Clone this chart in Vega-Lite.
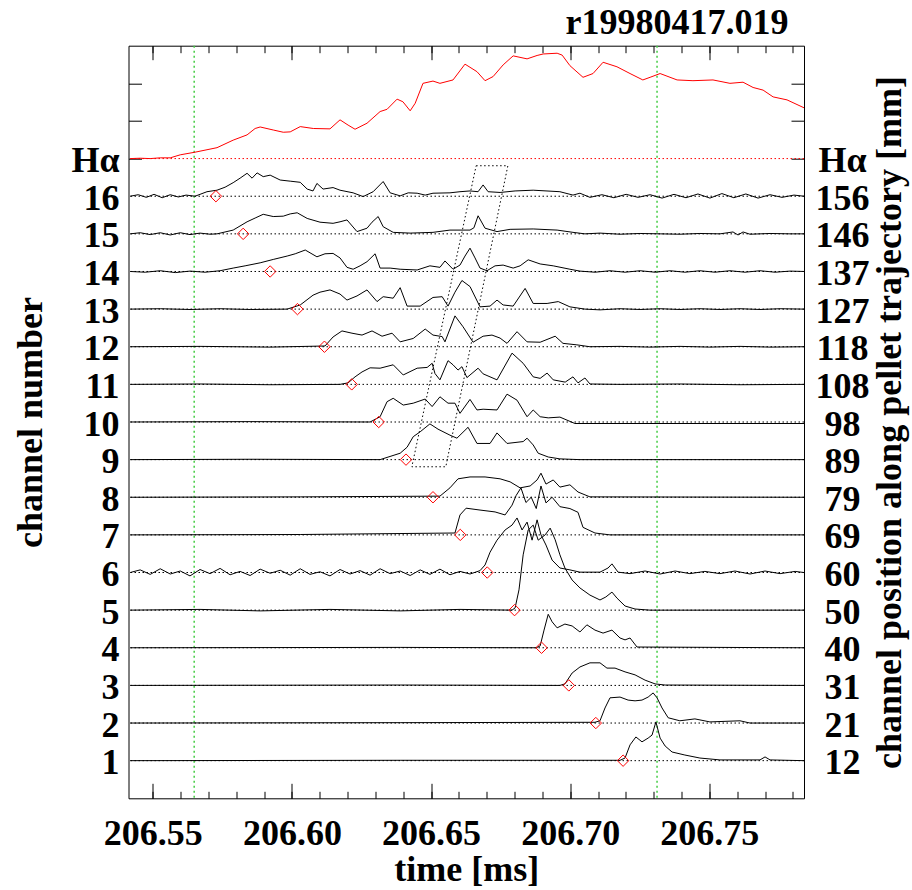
{
"$schema":"https://vega.github.io/schema/vega-lite/v6.json",
"width":675.5,"height":752.6,
"autosize":{"type":"none"},
"padding":{"left":128.5,"top":45.7,"right":108,"bottom":91.7},
"config":{"view":{"stroke":"black","strokeWidth":1},"font":"Liberation Serif",
"axis":{"domain":false,"grid":false,"labelFont":"Liberation Serif","labelFontSize":36,"labelFontWeight":"bold","labelColor":"black","titleFont":"Liberation Serif","titleFontSize":36,"titleFontWeight":"bold","titleColor":"black","tickColor":"black","tickWidth":1,"labelFlush":false,"labelOverlap":false,"labelBound":false}},
"datasets":{
"bl":[{"c":1},{"c":2},{"c":3},{"c":4},{"c":5},{"c":6},{"c":7},{"c":8},{"c":9},{"c":10},{"c":11},{"c":12},{"c":13},{"c":14},{"c":15},{"c":16}],
"hb":[{"c":17}],
"gl":[{"t":206.5649},{"t":206.7312}],
"bx":[{"i":1,"t":206.6662,"y":16.81},{"i":2,"t":206.6776,"y":16.81},{"i":3,"t":206.6553,"y":8.81},{"i":4,"t":206.6431,"y":8.81},{"i":5,"t":206.6662,"y":16.81}],
"dm":[{"c":16,"t":206.5727},{"c":15,"t":206.5825},{"c":14,"t":206.5922},{"c":13,"t":206.602},{"c":12,"t":206.6117},{"c":11,"t":206.6215},{"c":10,"t":206.6312},{"c":9,"t":206.641},{"c":8,"t":206.6507},{"c":7,"t":206.6605},{"c":6,"t":206.6702},{"c":5,"t":206.68},{"c":4,"t":206.6897},{"c":3,"t":206.6995},{"c":2,"t":206.7092},{"c":1,"t":206.719}],
"ha":[{"t":206.5419,"y":17.0},{"t":206.5455,"y":17.01},{"t":206.5491,"y":17.0},{"t":206.5527,"y":17.02},{"t":206.5563,"y":17.02},{"t":206.5599,"y":17.1},{"t":206.5652,"y":17.17},{"t":206.5731,"y":17.29},{"t":206.5789,"y":17.49},{"t":206.5839,"y":17.63},{"t":206.5868,"y":17.8},{"t":206.5886,"y":17.84},{"t":206.5933,"y":17.76},{"t":206.5969,"y":17.7},{"t":206.5994,"y":17.71},{"t":206.603,"y":17.85},{"t":206.6077,"y":17.8},{"t":206.6137,"y":17.79},{"t":206.6173,"y":18.03},{"t":206.6202,"y":17.89},{"t":206.6227,"y":17.78},{"t":206.627,"y":17.94},{"t":206.6317,"y":18.25},{"t":206.6342,"y":18.31},{"t":206.6378,"y":18.58},{"t":206.6399,"y":18.51},{"t":206.6425,"y":18.27},{"t":206.6443,"y":18.47},{"t":206.6471,"y":19.0},{"t":206.6507,"y":19.06},{"t":206.6532,"y":19.0},{"t":206.6579,"y":19.09},{"t":206.6622,"y":19.51},{"t":206.6665,"y":19.31},{"t":206.6694,"y":19.07},{"t":206.6723,"y":19.18},{"t":206.6759,"y":19.49},{"t":206.6795,"y":19.73},{"t":206.6845,"y":19.65},{"t":206.6881,"y":19.74},{"t":206.6903,"y":19.78},{"t":206.6953,"y":19.8},{"t":206.6971,"y":19.75},{"t":206.6999,"y":19.47},{"t":206.7046,"y":19.16},{"t":206.7082,"y":19.26},{"t":206.7118,"y":19.56},{"t":206.7168,"y":19.44},{"t":206.7215,"y":19.26},{"t":206.7261,"y":19.09},{"t":206.7287,"y":19.16},{"t":206.7323,"y":19.26},{"t":206.7384,"y":19.09},{"t":206.7441,"y":19.07},{"t":206.7513,"y":19.09},{"t":206.7574,"y":19.0},{"t":206.7621,"y":19.03},{"t":206.7657,"y":18.89},{"t":206.7693,"y":18.82},{"t":206.7729,"y":18.64},{"t":206.7779,"y":18.56},{"t":206.784,"y":18.35}],
"tr":[
{"c":16,"t":206.5419,"y":16.0},{"c":16,"t":206.5448,"y":16.04},{"c":16,"t":206.5477,"y":15.97},{"c":16,"t":206.5505,"y":16.05},{"c":16,"t":206.5534,"y":15.96},{"c":16,"t":206.5563,"y":16.04},{"c":16,"t":206.5592,"y":15.98},{"c":16,"t":206.562,"y":16.03},{"c":16,"t":206.5652,"y":16.0},{"c":16,"t":206.5695,"y":16.12},{"c":16,"t":206.5731,"y":16.16},{"c":16,"t":206.576,"y":16.24},{"c":16,"t":206.5789,"y":16.36},{"c":16,"t":206.5814,"y":16.48},{"c":16,"t":206.5839,"y":16.61},{"c":16,"t":206.5857,"y":16.48},{"c":16,"t":206.5875,"y":16.62},{"c":16,"t":206.5897,"y":16.52},{"c":16,"t":206.5922,"y":16.56},{"c":16,"t":206.5958,"y":16.43},{"c":16,"t":206.5994,"y":16.4},{"c":16,"t":206.603,"y":16.37},{"c":16,"t":206.6055,"y":16.19},{"c":16,"t":206.6076,"y":16.14},{"c":16,"t":206.609,"y":16.34},{"c":16,"t":206.6112,"y":16.19},{"c":16,"t":206.6148,"y":16.23},{"c":16,"t":206.6173,"y":16.16},{"c":16,"t":206.622,"y":16.09},{"c":16,"t":206.6256,"y":15.99},{"c":16,"t":206.6292,"y":16.12},{"c":16,"t":206.6328,"y":16.39},{"c":16,"t":206.6353,"y":16.09},{"c":16,"t":206.6389,"y":16.01},{"c":16,"t":206.6418,"y":16.09},{"c":16,"t":206.645,"y":16.08},{"c":16,"t":206.6479,"y":16.03},{"c":16,"t":206.6507,"y":16.08},{"c":16,"t":206.6568,"y":16.09},{"c":16,"t":206.6604,"y":16.12},{"c":16,"t":206.664,"y":16.14},{"c":16,"t":206.6669,"y":16.12},{"c":16,"t":206.6687,"y":16.3},{"c":16,"t":206.6705,"y":16.12},{"c":16,"t":206.6748,"y":16.1},{"c":16,"t":206.6802,"y":16.14},{"c":16,"t":206.6867,"y":16.16},{"c":16,"t":206.6963,"y":16.12},{"c":16,"t":206.701,"y":16.03},{"c":16,"t":206.7035,"y":16.08},{"c":16,"t":206.7071,"y":15.97},{"c":16,"t":206.7114,"y":16.04},{"c":16,"t":206.7157,"y":15.96},{"c":16,"t":206.7201,"y":16.05},{"c":16,"t":206.7244,"y":15.97},{"c":16,"t":206.7287,"y":16.04},{"c":16,"t":206.733,"y":15.95},{"c":16,"t":206.7373,"y":16.05},{"c":16,"t":206.7416,"y":15.96},{"c":16,"t":206.7459,"y":16.06},{"c":16,"t":206.7502,"y":15.95},{"c":16,"t":206.7545,"y":16.07},{"c":16,"t":206.7588,"y":15.96},{"c":16,"t":206.7631,"y":16.06},{"c":16,"t":206.7675,"y":15.95},{"c":16,"t":206.7718,"y":16.04},{"c":16,"t":206.7761,"y":15.97},{"c":16,"t":206.7804,"y":16.03},{"c":16,"t":206.784,"y":16.0},
{"c":15,"t":206.5419,"y":15.0},{"c":15,"t":206.5455,"y":15.03},{"c":15,"t":206.5491,"y":14.98},{"c":15,"t":206.5527,"y":15.03},{"c":15,"t":206.5563,"y":14.97},{"c":15,"t":206.5599,"y":15.03},{"c":15,"t":206.5634,"y":14.98},{"c":15,"t":206.567,"y":15.02},{"c":15,"t":206.5706,"y":14.99},{"c":15,"t":206.5731,"y":15.0},{"c":15,"t":206.5789,"y":15.1},{"c":15,"t":206.5839,"y":15.32},{"c":15,"t":206.5868,"y":15.42},{"c":15,"t":206.5897,"y":15.52},{"c":15,"t":206.5933,"y":15.46},{"c":15,"t":206.5969,"y":15.47},{"c":15,"t":206.5994,"y":15.53},{"c":15,"t":206.6019,"y":15.56},{"c":15,"t":206.6055,"y":15.41},{"c":15,"t":206.6101,"y":15.31},{"c":15,"t":206.6148,"y":15.28},{"c":15,"t":206.6173,"y":15.32},{"c":15,"t":206.6198,"y":15.37},{"c":15,"t":206.6234,"y":15.06},{"c":15,"t":206.627,"y":15.15},{"c":15,"t":206.6288,"y":15.31},{"c":15,"t":206.631,"y":15.46},{"c":15,"t":206.6328,"y":15.19},{"c":15,"t":206.6364,"y":15.04},{"c":15,"t":206.6425,"y":15.02},{"c":15,"t":206.6507,"y":15.04},{"c":15,"t":206.6568,"y":15.1},{"c":15,"t":206.664,"y":15.1},{"c":15,"t":206.6654,"y":15.16},{"c":15,"t":206.6669,"y":15.48},{"c":15,"t":206.6694,"y":15.15},{"c":15,"t":206.6737,"y":15.06},{"c":15,"t":206.6784,"y":15.12},{"c":15,"t":206.6867,"y":15.13},{"c":15,"t":206.6953,"y":15.1},{"c":15,"t":206.701,"y":15.04},{"c":15,"t":206.7053,"y":15.0},{"c":15,"t":206.7107,"y":15.02},{"c":15,"t":206.7179,"y":14.99},{"c":15,"t":206.7251,"y":15.01},{"c":15,"t":206.7323,"y":15.0},{"c":15,"t":206.7394,"y":14.99},{"c":15,"t":206.7466,"y":15.01},{"c":15,"t":206.7538,"y":15.0},{"c":15,"t":206.7585,"y":15.05},{"c":15,"t":206.7603,"y":14.97},{"c":15,"t":206.7621,"y":15.05},{"c":15,"t":206.7646,"y":14.99},{"c":15,"t":206.7718,"y":15.01},{"c":15,"t":206.779,"y":15.0},{"c":15,"t":206.784,"y":15.0},
{"c":14,"t":206.5419,"y":14.0},{"c":14,"t":206.5473,"y":13.98},{"c":14,"t":206.5527,"y":14.02},{"c":14,"t":206.5581,"y":13.97},{"c":14,"t":206.5634,"y":14.01},{"c":14,"t":206.5688,"y":13.98},{"c":14,"t":206.5742,"y":14.02},{"c":14,"t":206.5789,"y":14.09},{"c":14,"t":206.5832,"y":14.15},{"c":14,"t":206.5886,"y":14.23},{"c":14,"t":206.5933,"y":14.32},{"c":14,"t":206.5983,"y":14.41},{"c":14,"t":206.6012,"y":14.47},{"c":14,"t":206.6048,"y":14.57},{"c":14,"t":206.609,"y":14.39},{"c":14,"t":206.6119,"y":14.47},{"c":14,"t":206.6148,"y":14.48},{"c":14,"t":206.6173,"y":14.36},{"c":14,"t":206.6198,"y":14.11},{"c":14,"t":206.622,"y":14.06},{"c":14,"t":206.6245,"y":14.15},{"c":14,"t":206.627,"y":14.26},{"c":14,"t":206.6299,"y":14.47},{"c":14,"t":206.6317,"y":14.09},{"c":14,"t":206.6353,"y":14.09},{"c":14,"t":206.6389,"y":14.06},{"c":14,"t":206.645,"y":14.04},{"c":14,"t":206.6496,"y":14.15},{"c":14,"t":206.6532,"y":14.11},{"c":14,"t":206.655,"y":14.28},{"c":14,"t":206.6579,"y":14.06},{"c":14,"t":206.6604,"y":14.17},{"c":14,"t":206.6622,"y":14.41},{"c":14,"t":206.664,"y":14.62},{"c":14,"t":206.6658,"y":14.36},{"c":14,"t":206.6676,"y":14.09},{"c":14,"t":206.6701,"y":14.02},{"c":14,"t":206.673,"y":14.15},{"c":14,"t":206.6759,"y":14.17},{"c":14,"t":206.6795,"y":14.09},{"c":14,"t":206.682,"y":14.15},{"c":14,"t":206.6849,"y":14.31},{"c":14,"t":206.6892,"y":14.2},{"c":14,"t":206.6939,"y":14.15},{"c":14,"t":206.6999,"y":14.06},{"c":14,"t":206.7035,"y":14.01},{"c":14,"t":206.7089,"y":13.98},{"c":14,"t":206.7143,"y":14.02},{"c":14,"t":206.7197,"y":13.98},{"c":14,"t":206.7251,"y":14.02},{"c":14,"t":206.7305,"y":13.98},{"c":14,"t":206.7359,"y":14.02},{"c":14,"t":206.7412,"y":13.98},{"c":14,"t":206.7466,"y":14.02},{"c":14,"t":206.752,"y":13.98},{"c":14,"t":206.7574,"y":14.02},{"c":14,"t":206.7628,"y":13.98},{"c":14,"t":206.7682,"y":14.02},{"c":14,"t":206.7736,"y":13.98},{"c":14,"t":206.779,"y":14.01},{"c":14,"t":206.784,"y":14.0},
{"c":13,"t":206.5419,"y":13.0},{"c":13,"t":206.5527,"y":13.01},{"c":13,"t":206.5634,"y":12.99},{"c":13,"t":206.5742,"y":13.01},{"c":13,"t":206.585,"y":12.99},{"c":13,"t":206.5983,"y":13.0},{"c":13,"t":206.603,"y":13.11},{"c":13,"t":206.6076,"y":13.37},{"c":13,"t":206.6101,"y":13.45},{"c":13,"t":206.6137,"y":13.51},{"c":13,"t":206.6173,"y":13.4},{"c":13,"t":206.6198,"y":13.24},{"c":13,"t":206.6234,"y":13.35},{"c":13,"t":206.627,"y":13.51},{"c":13,"t":206.6306,"y":13.2},{"c":13,"t":206.6328,"y":13.33},{"c":13,"t":206.6364,"y":13.29},{"c":13,"t":206.6389,"y":13.57},{"c":13,"t":206.6414,"y":13.08},{"c":13,"t":206.6461,"y":13.08},{"c":13,"t":206.6507,"y":13.31},{"c":13,"t":206.654,"y":13.33},{"c":13,"t":206.6561,"y":13.08},{"c":13,"t":206.6586,"y":13.45},{"c":13,"t":206.6611,"y":13.76},{"c":13,"t":206.664,"y":13.6},{"c":13,"t":206.6676,"y":13.06},{"c":13,"t":206.6712,"y":13.08},{"c":13,"t":206.6737,"y":13.24},{"c":13,"t":206.6759,"y":13.11},{"c":13,"t":206.6795,"y":13.08},{"c":13,"t":206.6838,"y":13.55},{"c":13,"t":206.6867,"y":13.15},{"c":13,"t":206.6917,"y":13.15},{"c":13,"t":206.6957,"y":13.2},{"c":13,"t":206.6999,"y":13.06},{"c":13,"t":206.7053,"y":13.0},{"c":13,"t":206.7107,"y":12.98},{"c":13,"t":206.7179,"y":13.01},{"c":13,"t":206.7251,"y":12.99},{"c":13,"t":206.7323,"y":13.01},{"c":13,"t":206.7394,"y":12.99},{"c":13,"t":206.7466,"y":13.01},{"c":13,"t":206.7538,"y":12.99},{"c":13,"t":206.761,"y":13.01},{"c":13,"t":206.7682,"y":12.99},{"c":13,"t":206.7754,"y":13.01},{"c":13,"t":206.784,"y":13.0},
{"c":12,"t":206.5419,"y":12.0},{"c":12,"t":206.567,"y":12.01},{"c":12,"t":206.5922,"y":11.99},{"c":12,"t":206.6119,"y":12.02},{"c":12,"t":206.6148,"y":12.26},{"c":12,"t":206.618,"y":12.42},{"c":12,"t":206.6216,"y":12.36},{"c":12,"t":206.6252,"y":12.31},{"c":12,"t":206.6288,"y":12.42},{"c":12,"t":206.6324,"y":12.28},{"c":12,"t":206.636,"y":12.36},{"c":12,"t":206.6389,"y":12.13},{"c":12,"t":206.6436,"y":12.22},{"c":12,"t":206.6479,"y":12.47},{"c":12,"t":206.6507,"y":12.31},{"c":12,"t":206.654,"y":12.27},{"c":12,"t":206.655,"y":12.13},{"c":12,"t":206.6586,"y":12.82},{"c":12,"t":206.6615,"y":12.53},{"c":12,"t":206.6651,"y":12.12},{"c":12,"t":206.6687,"y":12.28},{"c":12,"t":206.6719,"y":12.31},{"c":12,"t":206.6748,"y":12.23},{"c":12,"t":206.6773,"y":12.09},{"c":12,"t":206.6809,"y":12.4},{"c":12,"t":206.6845,"y":12.13},{"c":12,"t":206.6892,"y":12.12},{"c":12,"t":206.6946,"y":12.28},{"c":12,"t":206.6974,"y":12.09},{"c":12,"t":206.7024,"y":12.05},{"c":12,"t":206.7071,"y":12.0},{"c":12,"t":206.7179,"y":12.01},{"c":12,"t":206.7287,"y":11.99},{"c":12,"t":206.7394,"y":12.01},{"c":12,"t":206.7502,"y":11.99},{"c":12,"t":206.761,"y":12.01},{"c":12,"t":206.7718,"y":11.99},{"c":12,"t":206.784,"y":12.0},
{"c":11,"t":206.5419,"y":11.0},{"c":11,"t":206.567,"y":11.01},{"c":11,"t":206.5922,"y":10.99},{"c":11,"t":206.6173,"y":11.0},{"c":11,"t":206.6202,"y":11.04},{"c":11,"t":206.6227,"y":11.2},{"c":11,"t":206.6252,"y":11.33},{"c":11,"t":206.6281,"y":11.44},{"c":11,"t":206.6317,"y":11.43},{"c":11,"t":206.6364,"y":11.52},{"c":11,"t":206.64,"y":11.25},{"c":11,"t":206.645,"y":11.43},{"c":11,"t":206.6486,"y":11.45},{"c":11,"t":206.6504,"y":11.56},{"c":11,"t":206.6514,"y":11.29},{"c":11,"t":206.6532,"y":11.12},{"c":11,"t":206.6561,"y":11.63},{"c":11,"t":206.6579,"y":11.52},{"c":11,"t":206.6597,"y":11.38},{"c":11,"t":206.6611,"y":11.47},{"c":11,"t":206.6629,"y":11.18},{"c":11,"t":206.6669,"y":11.43},{"c":11,"t":206.6687,"y":11.28},{"c":11,"t":206.6737,"y":11.12},{"c":11,"t":206.6791,"y":11.83},{"c":11,"t":206.6831,"y":11.56},{"c":11,"t":206.6867,"y":11.2},{"c":11,"t":206.6892,"y":11.16},{"c":11,"t":206.6917,"y":11.3},{"c":11,"t":206.6939,"y":11.12},{"c":11,"t":206.6982,"y":11.06},{"c":11,"t":206.701,"y":11.2},{"c":11,"t":206.7028,"y":11.04},{"c":11,"t":206.7053,"y":11.17},{"c":11,"t":206.7071,"y":11.01},{"c":11,"t":206.7179,"y":11.0},{"c":11,"t":206.7394,"y":11.01},{"c":11,"t":206.761,"y":10.99},{"c":11,"t":206.784,"y":11.0},
{"c":10,"t":206.5419,"y":10.0},{"c":10,"t":206.585,"y":10.01},{"c":10,"t":206.6281,"y":10.0},{"c":10,"t":206.6317,"y":10.14},{"c":10,"t":206.6342,"y":10.54},{"c":10,"t":206.6364,"y":10.63},{"c":10,"t":206.64,"y":10.45},{"c":10,"t":206.6436,"y":10.5},{"c":10,"t":206.6479,"y":10.61},{"c":10,"t":206.6504,"y":10.41},{"c":10,"t":206.6532,"y":10.67},{"c":10,"t":206.6561,"y":10.5},{"c":10,"t":206.6586,"y":10.5},{"c":10,"t":206.6604,"y":10.23},{"c":10,"t":206.664,"y":10.6},{"c":10,"t":206.6665,"y":10.32},{"c":10,"t":206.6687,"y":10.34},{"c":10,"t":206.6737,"y":10.32},{"c":10,"t":206.6773,"y":10.74},{"c":10,"t":206.6809,"y":10.58},{"c":10,"t":206.6845,"y":10.14},{"c":10,"t":206.6867,"y":10.32},{"c":10,"t":206.6892,"y":10.14},{"c":10,"t":206.6921,"y":10.11},{"c":10,"t":206.6963,"y":10.13},{"c":10,"t":206.7017,"y":9.96},{"c":10,"t":206.784,"y":9.96},
{"c":9,"t":206.5419,"y":9.0},{"c":9,"t":206.585,"y":9.01},{"c":9,"t":206.6317,"y":9.0},{"c":9,"t":206.6389,"y":9.17},{"c":9,"t":206.6414,"y":9.33},{"c":9,"t":206.6436,"y":9.61},{"c":9,"t":206.6461,"y":9.74},{"c":9,"t":206.6496,"y":9.95},{"c":9,"t":206.6525,"y":9.81},{"c":9,"t":206.6568,"y":9.65},{"c":9,"t":206.6593,"y":9.57},{"c":9,"t":206.6633,"y":9.86},{"c":9,"t":206.6665,"y":9.43},{"c":9,"t":206.6712,"y":9.43},{"c":9,"t":206.6737,"y":9.71},{"c":9,"t":206.6773,"y":9.43},{"c":9,"t":206.6831,"y":9.48},{"c":9,"t":206.6845,"y":9.57},{"c":9,"t":206.6867,"y":9.39},{"c":9,"t":206.6885,"y":9.17},{"c":9,"t":206.6921,"y":9.07},{"c":9,"t":206.6963,"y":9.02},{"c":9,"t":206.7035,"y":9.0},{"c":9,"t":206.784,"y":9.0},
{"c":8,"t":206.5419,"y":8.0},{"c":8,"t":206.603,"y":8.01},{"c":8,"t":206.6532,"y":8.03},{"c":8,"t":206.6568,"y":8.25},{"c":8,"t":206.6597,"y":8.49},{"c":8,"t":206.664,"y":8.54},{"c":8,"t":206.6694,"y":8.54},{"c":8,"t":206.6748,"y":8.49},{"c":8,"t":206.6784,"y":8.41},{"c":8,"t":206.682,"y":8.25},{"c":8,"t":206.6856,"y":8.3},{"c":8,"t":206.6881,"y":8.46},{"c":8,"t":206.6895,"y":8.64},{"c":8,"t":206.6913,"y":8.35},{"c":8,"t":206.6939,"y":8.46},{"c":8,"t":206.6963,"y":8.27},{"c":8,"t":206.6999,"y":8.33},{"c":8,"t":206.7028,"y":8.14},{"c":8,"t":206.7071,"y":8.01},{"c":8,"t":206.784,"y":8.0},
{"c":7,"t":206.5419,"y":7.0},{"c":7,"t":206.603,"y":7.01},{"c":7,"t":206.6586,"y":7.05},{"c":7,"t":206.6604,"y":7.53},{"c":7,"t":206.6626,"y":7.71},{"c":7,"t":206.6676,"y":7.66},{"c":7,"t":206.673,"y":7.61},{"c":7,"t":206.6766,"y":7.53},{"c":7,"t":206.6791,"y":7.79},{"c":7,"t":206.6806,"y":8.05},{"c":7,"t":206.6823,"y":8.25},{"c":7,"t":206.6841,"y":7.86},{"c":7,"t":206.686,"y":8.0},{"c":7,"t":206.6878,"y":7.7},{"c":7,"t":206.6895,"y":8.3},{"c":7,"t":206.6913,"y":7.85},{"c":7,"t":206.6935,"y":8.0},{"c":7,"t":206.6963,"y":7.75},{"c":7,"t":206.6999,"y":7.7},{"c":7,"t":206.7028,"y":7.6},{"c":7,"t":206.7046,"y":7.2},{"c":7,"t":206.7089,"y":7.05},{"c":7,"t":206.7143,"y":7.0},{"c":7,"t":206.784,"y":7.0},
{"c":6,"t":206.5419,"y":6.0},{"c":6,"t":206.5455,"y":6.07},{"c":6,"t":206.5491,"y":5.95},{"c":6,"t":206.5527,"y":6.1},{"c":6,"t":206.5563,"y":5.96},{"c":6,"t":206.5599,"y":6.04},{"c":6,"t":206.5634,"y":5.91},{"c":6,"t":206.567,"y":6.08},{"c":6,"t":206.5706,"y":5.97},{"c":6,"t":206.5742,"y":6.11},{"c":6,"t":206.5778,"y":5.94},{"c":6,"t":206.5814,"y":6.03},{"c":6,"t":206.585,"y":5.92},{"c":6,"t":206.5886,"y":6.09},{"c":6,"t":206.5922,"y":5.98},{"c":6,"t":206.5958,"y":6.06},{"c":6,"t":206.5994,"y":5.93},{"c":6,"t":206.603,"y":6.1},{"c":6,"t":206.6065,"y":5.95},{"c":6,"t":206.6101,"y":6.02},{"c":6,"t":206.6137,"y":5.91},{"c":6,"t":206.6173,"y":6.08},{"c":6,"t":206.6209,"y":5.96},{"c":6,"t":206.6245,"y":6.05},{"c":6,"t":206.6281,"y":5.93},{"c":6,"t":206.6317,"y":6.1},{"c":6,"t":206.6353,"y":5.97},{"c":6,"t":206.6389,"y":6.04},{"c":6,"t":206.6425,"y":5.92},{"c":6,"t":206.6461,"y":6.07},{"c":6,"t":206.6496,"y":5.95},{"c":6,"t":206.6532,"y":6.09},{"c":6,"t":206.6568,"y":5.94},{"c":6,"t":206.6604,"y":6.03},{"c":6,"t":206.664,"y":5.96},{"c":6,"t":206.6676,"y":6.05},{"c":6,"t":206.6694,"y":6.2},{"c":6,"t":206.6712,"y":6.54},{"c":6,"t":206.6737,"y":6.86},{"c":6,"t":206.6766,"y":7.13},{"c":6,"t":206.6791,"y":7.26},{"c":6,"t":206.6809,"y":7.45},{"c":6,"t":206.6827,"y":7.13},{"c":6,"t":206.6845,"y":7.34},{"c":6,"t":206.6863,"y":6.86},{"c":6,"t":206.6881,"y":7.4},{"c":6,"t":206.6895,"y":7.0},{"c":6,"t":206.6913,"y":6.73},{"c":6,"t":206.6935,"y":6.33},{"c":6,"t":206.6963,"y":6.12},{"c":6,"t":206.6999,"y":6.07},{"c":6,"t":206.7035,"y":6.01},{"c":6,"t":206.7107,"y":6.01},{"c":6,"t":206.7136,"y":6.12},{"c":6,"t":206.715,"y":6.23},{"c":6,"t":206.7172,"y":6.01},{"c":6,"t":206.7215,"y":5.97},{"c":6,"t":206.7269,"y":6.04},{"c":6,"t":206.7323,"y":5.96},{"c":6,"t":206.7377,"y":6.04},{"c":6,"t":206.743,"y":5.97},{"c":6,"t":206.7484,"y":6.03},{"c":6,"t":206.7538,"y":5.97},{"c":6,"t":206.7592,"y":6.04},{"c":6,"t":206.7646,"y":5.96},{"c":6,"t":206.77,"y":6.04},{"c":6,"t":206.7754,"y":5.97},{"c":6,"t":206.7808,"y":6.03},{"c":6,"t":206.784,"y":6.0},
{"c":5,"t":206.5419,"y":5.0},{"c":5,"t":206.567,"y":5.02},{"c":5,"t":206.5886,"y":4.98},{"c":5,"t":206.6137,"y":5.02},{"c":5,"t":206.6389,"y":4.98},{"c":5,"t":206.6604,"y":5.02},{"c":5,"t":206.6791,"y":5.0},{"c":5,"t":206.6802,"y":5.06},{"c":5,"t":206.6816,"y":5.54},{"c":5,"t":206.6831,"y":6.47},{"c":5,"t":206.6849,"y":7.13},{"c":5,"t":206.6867,"y":7.26},{"c":5,"t":206.6885,"y":6.86},{"c":5,"t":206.691,"y":7.0},{"c":5,"t":206.6928,"y":7.18},{"c":5,"t":206.6946,"y":6.87},{"c":5,"t":206.6963,"y":6.47},{"c":5,"t":206.6981,"y":6.12},{"c":5,"t":206.7007,"y":5.8},{"c":5,"t":206.7035,"y":5.59},{"c":5,"t":206.7071,"y":5.4},{"c":5,"t":206.7107,"y":5.27},{"c":5,"t":206.7128,"y":5.35},{"c":5,"t":206.715,"y":5.48},{"c":5,"t":206.7168,"y":5.32},{"c":5,"t":206.7197,"y":5.11},{"c":5,"t":206.7233,"y":5.03},{"c":5,"t":206.7287,"y":5.0},{"c":5,"t":206.784,"y":5.0},
{"c":4,"t":206.5419,"y":4.0},{"c":4,"t":206.6389,"y":4.01},{"c":4,"t":206.6878,"y":4.0},{"c":4,"t":206.6892,"y":4.05},{"c":4,"t":206.6906,"y":4.47},{"c":4,"t":206.6921,"y":4.89},{"c":4,"t":206.6935,"y":4.69},{"c":4,"t":206.6953,"y":4.53},{"c":4,"t":206.6981,"y":4.63},{"c":4,"t":206.7007,"y":4.58},{"c":4,"t":206.7035,"y":4.42},{"c":4,"t":206.706,"y":4.61},{"c":4,"t":206.7089,"y":4.47},{"c":4,"t":206.7118,"y":4.39},{"c":4,"t":206.715,"y":4.47},{"c":4,"t":206.7179,"y":4.26},{"c":4,"t":206.7197,"y":4.21},{"c":4,"t":206.7215,"y":4.26},{"c":4,"t":206.724,"y":4.02},{"c":4,"t":206.784,"y":4.0},
{"c":3,"t":206.5419,"y":3.0},{"c":3,"t":206.6389,"y":3.01},{"c":3,"t":206.6963,"y":3.0},{"c":3,"t":206.6981,"y":3.04},{"c":3,"t":206.7007,"y":3.33},{"c":3,"t":206.7035,"y":3.49},{"c":3,"t":206.7071,"y":3.6},{"c":3,"t":206.7107,"y":3.6},{"c":3,"t":206.7132,"y":3.46},{"c":3,"t":206.7161,"y":3.46},{"c":3,"t":206.7197,"y":3.36},{"c":3,"t":206.7233,"y":3.28},{"c":3,"t":206.7269,"y":3.14},{"c":3,"t":206.7305,"y":3.04},{"c":3,"t":206.7341,"y":3.01},{"c":3,"t":206.784,"y":3.0},
{"c":2,"t":206.5419,"y":2.0},{"c":2,"t":206.6389,"y":2.01},{"c":2,"t":206.7089,"y":2.02},{"c":2,"t":206.7107,"y":2.06},{"c":2,"t":206.7125,"y":2.4},{"c":2,"t":206.7143,"y":2.67},{"c":2,"t":206.7179,"y":2.69},{"c":2,"t":206.7208,"y":2.61},{"c":2,"t":206.7233,"y":2.59},{"c":2,"t":206.7258,"y":2.61},{"c":2,"t":206.728,"y":2.69},{"c":2,"t":206.7298,"y":2.8},{"c":2,"t":206.7312,"y":2.67},{"c":2,"t":206.733,"y":2.4},{"c":2,"t":206.7352,"y":2.14},{"c":2,"t":206.7394,"y":2.06},{"c":2,"t":206.7448,"y":2.11},{"c":2,"t":206.7502,"y":2.03},{"c":2,"t":206.761,"y":2.06},{"c":2,"t":206.7646,"y":2.0},{"c":2,"t":206.784,"y":2.0},
{"c":1,"t":206.5419,"y":1.0},{"c":1,"t":206.6389,"y":1.01},{"c":1,"t":206.7179,"y":1.01},{"c":1,"t":206.7197,"y":1.07},{"c":1,"t":206.7215,"y":1.42},{"c":1,"t":206.7236,"y":1.63},{"c":1,"t":206.7258,"y":1.5},{"c":1,"t":206.728,"y":1.6},{"c":1,"t":206.7294,"y":1.68},{"c":1,"t":206.7308,"y":2.03},{"c":1,"t":206.7323,"y":1.6},{"c":1,"t":206.7341,"y":1.39},{"c":1,"t":206.7366,"y":1.23},{"c":1,"t":206.7412,"y":1.15},{"c":1,"t":206.7466,"y":1.07},{"c":1,"t":206.7538,"y":1.02},{"c":1,"t":206.7682,"y":1.02},{"c":1,"t":206.77,"y":1.1},{"c":1,"t":206.7718,"y":1.02},{"c":1,"t":206.784,"y":1.0}
]},
"layer":[
{"data":{"name":"bl"},"mark":{"type":"rule","color":"black","strokeWidth":1,"strokeDash":[1.5,2.5]},
 "encoding":{"y":{"field":"c","type":"quantitative","scale":{"domain":[0,20],"nice":false,"zero":false},"axis":null}}},
{"data":{"name":"hb"},"mark":{"type":"rule","color":"#ff0000","strokeWidth":1,"strokeDash":[1.5,2.5]},
 "encoding":{"y":{"field":"c","type":"quantitative","scale":{"domain":[0,20],"nice":false,"zero":false},"axis":null}}},
{"data":{"name":"gl"},"mark":{"type":"rule","color":"#44cc44","strokeWidth":1.5,"strokeDash":[2,3]},
 "encoding":{"x":{"field":"t","type":"quantitative","scale":{"domain":[206.5413,206.784],"nice":false,"zero":false},
  "axis":{"orient":"bottom","values":[206.55,206.6,206.65,206.7,206.75],"format":".2f","ticks":false,"labelPadding":18,"title":"time [ms]","titleX":337.75,"titleY":82.4,"titleBaseline":"alphabetic","titleAlign":"center"}}}},
{"data":{"name":"bx"},"mark":{"type":"line","color":"black","strokeWidth":1,"strokeDash":[1.5,2.5]},
 "encoding":{"x":{"field":"t","type":"quantitative","scale":{"domain":[206.5413,206.784],"nice":false,"zero":false},
  "axis":{"orient":"top","values":[206.55,206.56,206.57,206.58,206.59,206.6,206.61,206.62,206.63,206.64,206.65,206.66,206.67,206.68,206.69,206.7,206.71,206.72,206.73,206.74,206.75,206.76,206.77,206.78],"labels":false,"tickSize":-7,"title":null}},
  "y":{"field":"y","type":"quantitative","scale":{"domain":[0,20],"nice":false,"zero":false},"axis":{"orient":"right","values":[17,18,19],"labels":false,"tickSize":-13,"title":null}},
  "order":{"field":"i"}}},
{"data":{"name":"tr"},"mark":{"type":"line","color":"black","strokeWidth":1},
 "encoding":{"x":{"field":"t","type":"quantitative","scale":{"domain":[206.5413,206.784],"nice":false,"zero":false},
  "axis":{"orient":"bottom","values":[206.55,206.6,206.65,206.7,206.75],"labels":false,"tickSize":-15,"title":null}},
  "y":{"field":"y","type":"quantitative","scale":{"domain":[0,20],"nice":false,"zero":false},
  "axis":{"orient":"left","values":[1,2,3,4,5,6,7,8,9,10,11,12,13,14,15,16,17],"ticks":false,"labelPadding":9.5,"labelBaseline":"middle","labelOffset":2,"labelExpr":"datum.value == 17 ? 'Hα' : datum.label","title":"channel number","titleX":-87.5,"titleY":376.3,"titleAngle":-90,"titleBaseline":"alphabetic","titleAlign":"center"}},
  "detail":{"field":"c","type":"nominal"}}},
{"data":{"name":"ha"},"mark":{"type":"line","color":"#ff0000","strokeWidth":1},
 "encoding":{"x":{"field":"t","type":"quantitative","scale":{"domain":[206.5413,206.784],"nice":false,"zero":false},
  "axis":{"orient":"top","values":[206.55,206.6,206.65,206.7,206.75],"labels":false,"tickSize":-14,"title":"r19980417.019","titleX":659.5,"titleY":-12.7,"titleAlign":"right","titleBaseline":"alphabetic","titleAngle":0}},
  "y":{"field":"y","type":"quantitative","scale":{"domain":[0,20],"nice":false,"zero":false},
  "axis":{"orient":"right","values":[1,2,3,4,5,6,7,8,9,10,11,12,13,14,15,16,17],"ticks":false,"labelPadding":38,"labelAlign":"center","labelBaseline":"middle","labelOffset":2,"labelExpr":"datum.value == 17 ? 'Hα' : ['','12','21','31','40','50','60','69','79','89','98','108','118','127','137','146','156'][datum.value]","title":"channel position along pellet trajectory [mm]","titleX":96,"titleY":376.3,"titleAngle":-90,"titleBaseline":"alphabetic","titleAlign":"center"}}}},
{"data":{"name":"dm"},"mark":{"type":"point","shape":"diamond","filled":false,"color":"#ff0000","size":130,"strokeWidth":1,"opacity":1},
 "encoding":{"x":{"field":"t","type":"quantitative","scale":{"domain":[206.5413,206.784],"nice":false,"zero":false},
  "axis":{"orient":"bottom","values":[206.55,206.56,206.57,206.58,206.59,206.6,206.61,206.62,206.63,206.64,206.65,206.66,206.67,206.68,206.69,206.7,206.71,206.72,206.73,206.74,206.75,206.76,206.77,206.78],"labels":false,"tickSize":-7,"title":null}},
  "y":{"field":"c","type":"quantitative","scale":{"domain":[0,20],"nice":false,"zero":false},"axis":{"orient":"left","values":[17,18,19],"labels":false,"tickSize":-13,"title":null}}}}
],
"resolve":{"axis":{"x":"independent","y":"independent"}}
}
